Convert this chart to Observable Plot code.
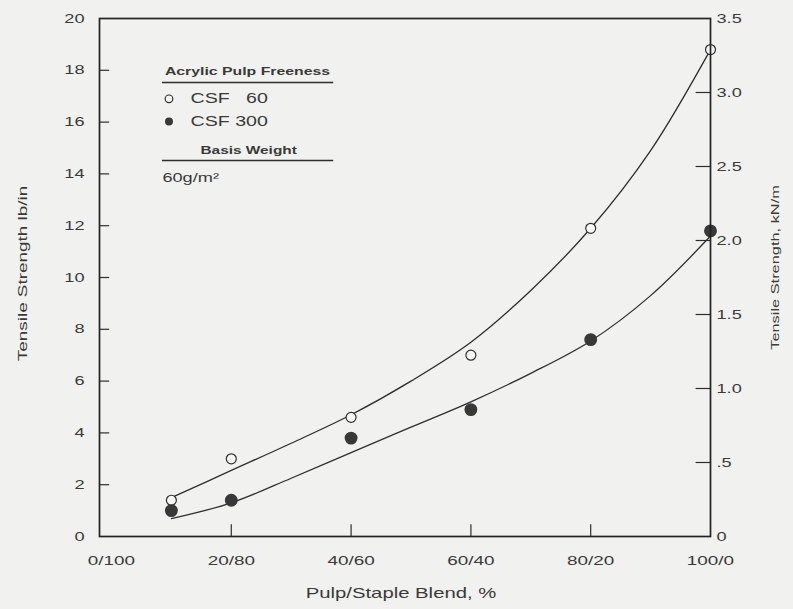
<!DOCTYPE html>
<html>
<head>
<meta charset="utf-8">
<script src="https://cdn.jsdelivr.net/npm/d3@7"></script>
<script src="https://cdn.jsdelivr.net/npm/@observablehq/plot@0.6"></script>
<style>
  html, body { margin: 0; padding: 0; background: #f1f1ef; }
  #chart svg { display: block; background: #f1f1ef; font-family: "Liberation Sans", Arial, sans-serif; }
</style>
</head>
<body>
<div id="chart"></div>
<script>
// ---- data ----
const blend = [10, 20, 40, 60, 80, 100];             // pulp % of the pulp/staple blend
const csf60 = [1.4, 3.0, 4.6, 7.0, 11.9, 18.8];      // open circles, lb/in
const csf300 = [1.0, 1.4, 3.8, 4.9, 7.6, 11.8];      // filled circles, lb/in

// fitted curves
const fitX = [10, 20, 30, 40, 50, 60, 70, 80, 90, 100];
const fit60 = [1.5, 2.55, 3.6, 4.7, 6.0, 7.5, 9.5, 11.9, 14.9, 18.8];
const fit300 = [0.69, 1.3, 2.25, 3.24, 4.22, 5.2, 6.3, 7.55, 9.3, 11.6];

// axes
const xTicks = [0, 20, 40, 60, 80, 100];
const xLabels = ["0/100", "20/80", "40/60", "60/40", "80/20", "100/0"];
const xInnerTicks = [20, 40, 60, 80];
const leftTicks = [0, 2, 4, 6, 8, 10, 12, 14, 16, 18, 20];
const rightTicks = [0, 0.5, 1.0, 1.5, 2.0, 2.5, 3.0, 3.5];         // kN/m
const rightLabels = ["0", ".5", "1.0", "1.5", "2.0", "2.5", "3.0", "3.5"];
const leftMax = 20, rightMax = 3.5;

const pts60 = blend.map((x, i) => ({x, y: csf60[i]}));
const pts300 = blend.map((x, i) => ({x, y: csf300[i]}));
const line60 = fitX.map((x, i) => ({x, y: fit60[i]}));
const line300 = fitX.map((x, i) => ({x, y: fit300[i]}));
const rightPos = rightTicks.map((v, i) => ({y: v * leftMax / rightMax, label: rightLabels[i]}));

const ink = "#2e2e2e";
const txt = "#3a3a3a";
const bg = "#f1f1ef";

const plot = Plot.plot({
  width: 793,
  height: 609,
  marginLeft: 99,
  marginRight: 83,
  marginTop: 18,
  marginBottom: 73,
  style: {background: bg, color: txt, fontSize: "13px", fontFamily: "Liberation Sans, Arial, sans-serif"},
  x: {domain: [-2, 100], axis: null},
  y: {domain: [0, 20], axis: null},
  marks: [
    // inner tick marks
    Plot.ruleY(leftTicks.slice(1, -1), {x1: -2, x2: -0.3, stroke: ink, strokeWidth: 1.2}),
    Plot.ruleY(rightPos.slice(1, -1), {y: "y", x1: 97.6, x2: 100, stroke: ink, strokeWidth: 1.2}),
    Plot.ruleX(xInnerTicks, {y1: 0, y2: 0.45, stroke: ink, strokeWidth: 1.2}),
    // tick labels
    Plot.text(leftTicks, {x: -2, y: d => d, text: d => String(d), textAnchor: "end", dx: -15, fontSize: 13, fill: txt}),
    Plot.text(rightPos, {x: 100, y: "y", text: "label", textAnchor: "start", dx: 6, fontSize: 13, fill: txt}),
    Plot.text(xTicks, {x: d => d, y: 0, text: (d, i) => xLabels[i], dy: 24, fontSize: 13.5, fill: txt}),
    // axis titles
    Plot.text(["Tensile Strength lb/in"], {frameAnchor: "left", textAnchor: "middle", dx: -77, dy: -4, rotate: -90, fontSize: 13.5, fill: txt}),
    Plot.text(["Tensile Strength, kN/m"], {frameAnchor: "right", textAnchor: "middle", dx: 65, dy: -10, rotate: -90, fontSize: 11.7, fill: txt}),
    Plot.text(["Pulp/Staple Blend, %"], {frameAnchor: "bottom", dy: 61, dx: -4, fontSize: 14.5, fill: txt}),
    // fitted curves
    Plot.line(line60, {x: "x", y: "y", curve: "catmull-rom", stroke: ink, strokeWidth: 1.3}),
    Plot.line(line300, {x: "x", y: "y", curve: "catmull-rom", stroke: ink, strokeWidth: 1.3}),
    // data points
    Plot.dot(pts60, {x: "x", y: "y", r: 5, fill: "#f7f7f5", stroke: ink, strokeWidth: 1.2}),
    Plot.dot(pts300, {x: "x", y: "y", r: 5.7, fill: "#383838", stroke: "#383838"}),
    // legend
    Plot.text(["Acrylic Pulp Freeness"], {x: 22.7, y: 17.95, fontWeight: "bold", fontSize: 11.3, fill: txt}),
    Plot.ruleY([17.53], {x1: 8.5, x2: 37.1, stroke: ink, strokeWidth: 1.5}),
    Plot.dot([{x: 9.6, y: 16.9}], {x: "x", y: "y", r: 3.8, fill: "#f7f7f5", stroke: ink, strokeWidth: 1.2}),
    Plot.text(["CSF"], {x: 13.2, y: 16.9, textAnchor: "start", fontSize: 14, fill: txt}),
    Plot.text(["60"], {x: 26.1, y: 16.9, textAnchor: "end", fontSize: 14, fill: txt}),
    Plot.dot([{x: 9.6, y: 16.02}], {x: "x", y: "y", r: 4, fill: "#383838"}),
    Plot.text(["CSF"], {x: 13.2, y: 16.02, textAnchor: "start", fontSize: 14, fill: txt}),
    Plot.text(["300"], {x: 26.1, y: 16.02, textAnchor: "end", fontSize: 14, fill: txt}),
    Plot.text(["Basis Weight"], {x: 22.9, y: 14.9, fontWeight: "bold", fontSize: 11, fill: txt}),
    Plot.ruleY([14.52], {x1: 8.5, x2: 37.1, stroke: ink, strokeWidth: 1.5}),
    Plot.text(["60g/m²"], {x: 8.5, y: 13.86, textAnchor: "start", fontSize: 13, fill: txt}),
    // frame
    Plot.frame({stroke: "#222", strokeWidth: 1.7})
  ]
});

// the scanned figure uses a wide typeface: stretch every label along its reading direction
const stretch = 1.4;
const isNum = v => v != null && v !== "" && /^-?[\d.]+$/.test(v.trim());
d3.select(plot).selectAll("text").each(function() {
  const ax = this.getAttribute("x"), ay = this.getAttribute("y");
  let x = 0, y = 0;
  if (isNum(ax)) { x = +ax; this.removeAttribute("x"); }
  if (isNum(ay)) { y = +ay; this.removeAttribute("y"); }
  const t = this.getAttribute("transform") || "";
  this.setAttribute("transform", `${t} translate(${x},${y}) scale(${stretch},1)`);
});

document.getElementById("chart").appendChild(plot);
</script>
</body>
</html>
